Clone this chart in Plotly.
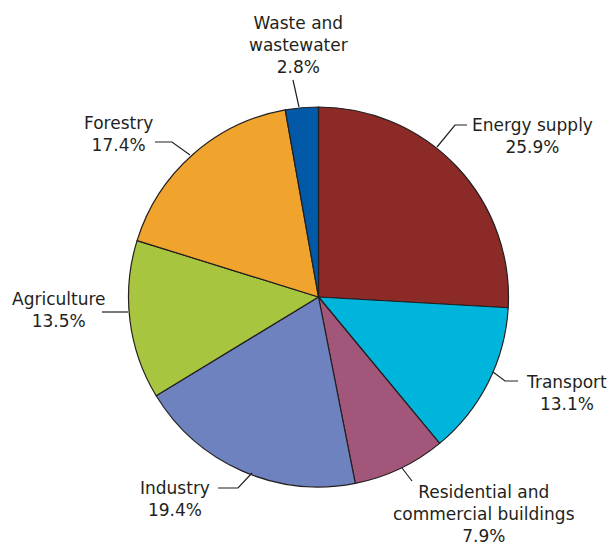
import plotly.graph_objects as go

# Greenhouse gas emissions by sector
sectors = ["Energy supply", "Transport", "Residential and commercial buildings",
           "Industry", "Agriculture", "Forestry", "Waste and wastewater"]
shares = [25.9, 13.1, 7.9, 19.4, 13.5, 17.4, 2.8]
colors = ["#8B2A26", "#00B5DC", "#A2567A", "#6E82C0", "#A8C53F", "#F0A42D", "#0259A8"]

# label text as printed (line breaks) and where it sits, in pixels
label_text = ["Energy supply", "Transport", "Residential and<br>commercial buildings",
              "Industry", "Agriculture", "Forestry", "Waste and<br>wastewater"]
label_pos = [(532, 136), (566, 393), (484, 514), (175, 499), (59, 310), (118, 134), (298, 45)]
leaders = [
    [(437, 147), (455, 125), (467, 125)],
    [(493, 372), (505, 381), (518, 381)],
    [(402, 468), (412, 481)],
    [(252, 473), (238, 488), (218, 488)],
    [(128, 312), (102, 312)],
    [(190, 155), (172, 142), (155, 142)],
    [(299, 107), (293, 80)],
]

W, H = 611, 545
cx, cy, r = 318.5, 297, 190

fig = go.Figure()
fig.add_trace(go.Pie(
    labels=sectors, values=shares, sort=False, direction="clockwise", rotation=0,
    marker=dict(colors=colors, line=dict(color="#231F20", width=1.2)),
    textinfo="none", hoverinfo="label+percent", showlegend=False,
    domain=dict(x=[(cx - r) / W, (cx + r) / W], y=[1 - (cy + r) / H, 1 - (cy - r) / H]),
))

for txt, val, (x, y) in zip(label_text, shares, label_pos):
    fig.add_annotation(x=x, y=y, xref="x", yref="y", text=f"{txt}<br>{val}%",
                       showarrow=False, align="center", xanchor="center", yanchor="middle",
                       font=dict(size=17, color="#231F20"))

for pts in leaders:
    path = "M " + " L ".join(f"{px},{py}" for px, py in pts)
    fig.add_shape(type="path", path=path, xref="x", yref="y",
                  line=dict(color="#231F20", width=1.2))

fig.update_layout(
    width=W, height=H,
    margin=dict(l=0, r=0, t=0, b=0),
    paper_bgcolor="white", plot_bgcolor="white",
    font=dict(family="DejaVu Sans, sans-serif", color="#231F20"),
    xaxis=dict(range=[0, W], visible=False, fixedrange=True),
    yaxis=dict(range=[H, 0], visible=False, fixedrange=True),
)

# drop the default page margin so the figure sits at the window's corner
fig.write_html("out.html", config={"displayModeBar": False},
               post_script="document.body.style.margin='0';")
